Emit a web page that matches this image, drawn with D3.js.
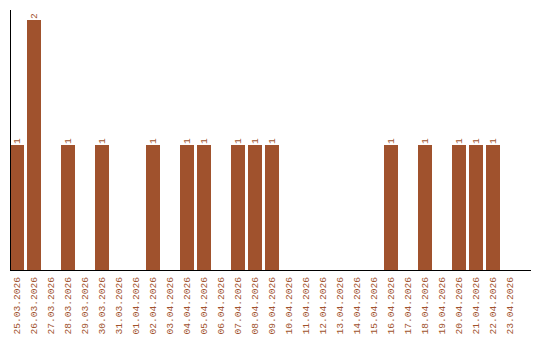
<!DOCTYPE html>
<html>
<head>
<meta charset="utf-8">
<script src="https://cdn.jsdelivr.net/npm/d3@7"></script>
<style>
  body { margin: 0; background: #fff; }
  text { font-family: "Liberation Mono", "DejaVu Sans Mono", monospace; }
</style>
</head>
<body>
<svg id="chart" width="540" height="340"></svg>
<script>
const DATES = [
  "25.03.2026", "26.03.2026", "27.03.2026", "28.03.2026", "29.03.2026",
  "30.03.2026", "31.03.2026", "01.04.2026", "02.04.2026", "03.04.2026",
  "04.04.2026", "05.04.2026", "06.04.2026", "07.04.2026", "08.04.2026",
  "09.04.2026", "10.04.2026", "11.04.2026", "12.04.2026", "13.04.2026",
  "14.04.2026", "15.04.2026", "16.04.2026", "17.04.2026", "18.04.2026",
  "19.04.2026", "20.04.2026", "21.04.2026", "22.04.2026", "23.04.2026"
]
const COUNTS = [
  1, 2, 0, 1, 0,
  1, 0, 0, 1, 0,
  1, 1, 0, 1, 1,
  1, 0, 0, 0, 0,
  0, 0, 1, 0, 1,
  0, 1, 1, 1, 0
]

const COLOR = "#a0522d";
const LEFT = 10, BOTTOM = 270, TOP = 10;

const svg = d3.select("#chart");

const x = d3.scaleBand()
  .domain(DATES)
  .range([LEFT, 517])
  .paddingInner(3 / 17)
  .paddingOuter(0);

const y = d3.scaleLinear()
  .domain([0, 2.08])
  .range([BOTTOM, TOP]);

const data = DATES.map((d, i) => ({ date: d, value: COUNTS[i] }));

// bars
svg.selectAll("rect.bar")
  .data(data.filter(d => d.value > 0))
  .enter()
  .append("rect")
  .attr("class", "bar")
  .attr("x", d => x(d.date))
  .attr("width", x.bandwidth())
  .attr("y", d => y(d.value))
  .attr("height", d => y(0) - y(d.value))
  .attr("fill", COLOR);

// value labels
svg.selectAll("text.val")
  .data(data.filter(d => d.value > 0))
  .enter()
  .append("text")
  .attr("class", "val")
  .attr("transform", d => `translate(${x(d.date) + x.bandwidth() / 2},${y(d.value) - 1}) rotate(-90)`)
  .attr("dy", "0.35em")
  .attr("font-size", "9.6px")
  .attr("fill", COLOR)
  .text(d => d.value);

// x axis
const xAxis = svg.append("g")
  .attr("transform", `translate(0,${BOTTOM})`)
  .call(d3.axisBottom(x).tickSize(0));
xAxis.select(".domain").remove();
xAxis.selectAll("text")
  .attr("font-family", "Liberation Mono, DejaVu Sans Mono, monospace")
  .attr("font-size", "9.6px")
  .attr("fill", COLOR)
  .attr("text-anchor", "end")
  .attr("transform", "translate(0,7) rotate(-90)")
  .attr("x", 0)
  .attr("y", 0)
  .attr("dy", "0.35em");

svg.append("line")
  .attr("x1", LEFT).attr("x2", 531)
  .attr("y1", BOTTOM + 0.5).attr("y2", BOTTOM + 0.5)
  .attr("stroke", "#000");

// y axis line
svg.append("line")
  .attr("x1", LEFT + 0.5).attr("x2", LEFT + 0.5)
  .attr("y1", TOP).attr("y2", BOTTOM)
  .attr("stroke", "#000");
</script>
</body>
</html>
